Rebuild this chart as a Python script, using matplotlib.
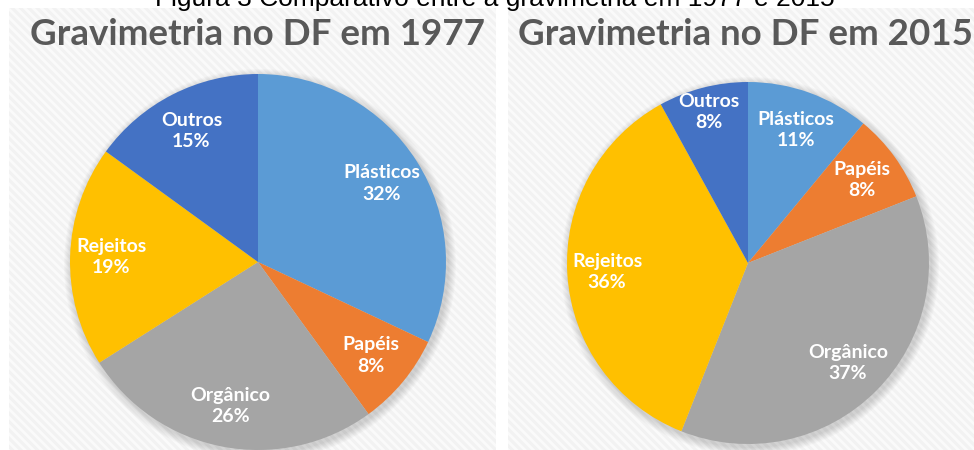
import numpy as np
import matplotlib.pyplot as plt
from matplotlib.patches import Rectangle, Circle

categories = ['Plásticos', 'Papéis', 'Orgânico', 'Rejeitos', 'Outros']
values_1977 = [32, 8, 26, 19, 15]
values_2015 = [11, 8, 37, 36, 8]
titles = ['Gravimetria no DF em 1977', 'Gravimetria no DF em 2015']
caption = 'Figura 3 Comparativo entre a gravimetria em 1977 e 2015'

colors = ['#5B9BD5', '#ED7D31', '#A5A5A5', '#FFC000', '#4472C4']
W, H = 974, 450

plt.rcParams['hatch.linewidth'] = 2.0
fig = plt.figure(figsize=(W / 100, H / 100), dpi=100, facecolor='white')
ax = fig.add_axes([0, 0, 1, 1])

# panel backgrounds (pixel coords, y up)
for x0, x1 in [(9, 496), (508, 974)]:
    ax.add_patch(Rectangle((x0, 0), x1 - x0, H - 8, facecolor='#f2f2f2',
                           edgecolor='#fafafa', hatch='\\\\\\\\', lw=0, zorder=0))

panels = [
    (values_1977, (258, 188), 188, titles[0], 258),
    (values_2015, (748, 187), 181, titles[1], 745),
]

for vals, center, r, title, tx in panels:
    # soft shadow
    for k in range(8, 0, -1):
        ax.add_patch(Circle((center[0] + 2, center[1] - 3), r + k,
                            facecolor='black', alpha=0.018, lw=0, zorder=1))
    wedges, _ = ax.pie(vals, colors=colors, startangle=90, counterclock=False,
                       center=center, radius=r, frame=True,
                       wedgeprops=dict(linewidth=0))
    for w in wedges:
        w.set_zorder(2)
    for w, name, v in zip(wedges, categories, vals):
        mid = np.deg2rad((w.theta1 + w.theta2) / 2)
        d = 0.86 if (name == 'Outros' and v < 10) else 0.78
        ax.text(center[0] + d * r * np.cos(mid), center[1] + d * r * np.sin(mid),
                f'{name}\n{v}%', ha='center', va='center', color='white',
                fontsize=14, fontweight='bold', family='Lato',
                linespacing=1.3, zorder=3)
    ax.text(tx, H - 45, title, ha='center', va='baseline', color='#595959',
            fontsize=26.5, fontweight='bold', family='Lato', zorder=3)

ax.set_xlim(0, W)
ax.set_ylim(0, H)
ax.set_aspect('equal')
ax.axis('off')

ax.text(495, H - 6, caption, ha='center', va='baseline', color='black',
        fontsize=19, family='Liberation Sans', zorder=3)

fig.savefig('out.png', dpi=100, facecolor='white')
